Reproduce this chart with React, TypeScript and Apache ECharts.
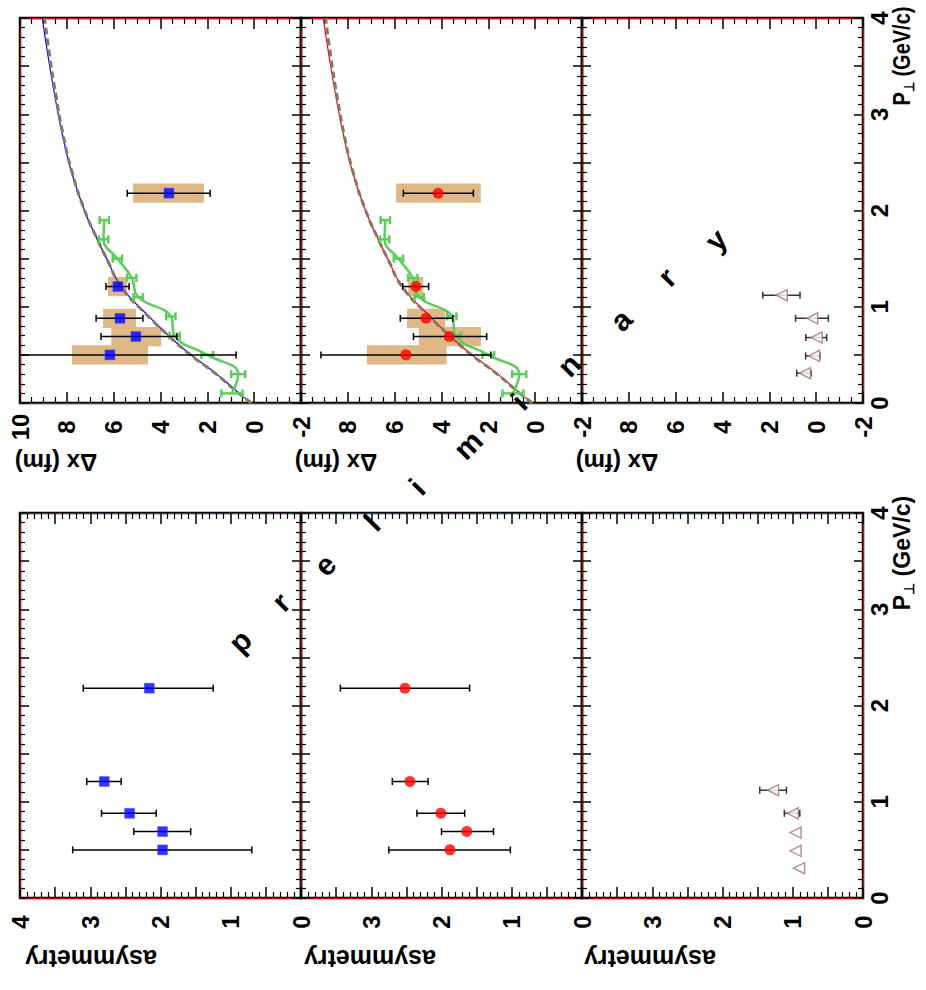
import React, { useEffect, useRef } from 'react';
import * as echarts from 'echarts';

const FONT = '"Liberation Sans", Arial, Helvetica, sans-serif';

// ---------- data ----------
// P_perp bins of the blue / red measurements (GeV/c)
const pBins = [0.5, 0.69, 0.88, 1.21, 2.18];
const sysHalfP = 0.1;

// Delta x (fm), blue squares
const blueDx = [6.16, 5.05, 5.73, 5.82, 3.64];
const blueDxLo = [0.77, 3.3, 4.75, 5.34, 1.88];
const blueDxHi = [11.5, 6.54, 6.75, 6.33, 5.42];
const blueSysLo = [4.53, 3.97, 5.05, 5.43, 2.14];
const blueSysHi = [7.78, 6.1, 6.45, 6.24, 5.17];

// Delta x (fm), red circles
const redDx = [5.52, 3.67, 4.66, 5.09, 4.14];
const redDxLo = [1.89, 2.07, 3.52, 4.55, 2.64];
const redDxHi = [9.15, 5.2, 5.76, 5.66, 5.63];
const redSysLo = [3.78, 2.31, 3.84, 4.78, 2.32];
const redSysHi = [7.19, 4.97, 5.47, 5.42, 5.94];

// asymmetry, blue squares
const blueAsym = [1.97, 1.97, 2.44, 2.8, 2.16];
const blueAsymLo = [0.7, 1.57, 2.06, 2.56, 1.25];
const blueAsymHi = [3.25, 2.38, 2.84, 3.05, 3.1];

// asymmetry, red circles
const redAsym = [1.88, 1.64, 2.01, 2.45, 2.52];
const redAsymLo = [1.02, 1.26, 1.67, 2.19, 1.6];
const redAsymHi = [2.75, 2.0, 2.35, 2.7, 3.44];

// triangles
const triP = [0.31, 0.49, 0.68, 0.88, 1.12];
const triDx = [0.48, 0.09, -0.02, 0.17, 1.47];
const triDxLo = [0.22, -0.16, -0.45, -0.52, 0.69];
const triDxHi = [0.83, 0.45, 0.44, 0.88, 2.28];
const triAsym = [0.91, 0.96, 0.96, 1.0, 1.28];
const triAsymLo = [0.91, 0.96, 0.96, 0.9, 1.09];
const triAsymHi = [0.91, 0.96, 0.96, 1.12, 1.47];

// green model points
const greenP = [0.1, 0.3, 0.5, 0.7, 0.9, 1.1, 1.3, 1.5, 1.7, 1.9];
const greenDx = [0.95, 0.68, 2.0, 3.4, 3.56, 4.95, 5.23, 5.84, 6.43, 6.4];
const greenErr = [0.45, 0.3, 0.25, 0.22, 0.2, 0.2, 0.2, 0.2, 0.2, 0.2];

// fit curves
const fitP = [0, 0.1, 0.3, 0.5, 0.7, 0.9, 1.2, 1.5, 1.7, 2.0, 2.4, 2.8, 3.2, 3.6, 4.0];
const fitDx = [0.12, 0.64, 1.6, 2.7, 3.65, 4.5, 5.65, 6.3, 6.7, 7.25, 7.8, 8.2, 8.52, 8.8, 9.05];
const dashDx = [0.12, 0.66, 1.62, 2.72, 3.66, 4.52, 5.66, 6.3, 6.7, 7.24, 7.78, 8.17, 8.47, 8.73, 8.95];

// axes
const dxMin = -2, dxMax = 10, dxStep = 2;
const asymMin = 0, asymMax = 4, asymStep = 0.5;
const pMin = 0, pMax = 4, pStep = 0.5;

const prelimLetters = ['p', 'r', 'e', 'l', 'i', 'm', 'i', 'n', 'a', 'r', 'y'];

// ---------- layout ----------
const GRID_LEFTS = [20, 301, 582];
const GRID_TOPS = [18, 513];
const GRID_W = 281;
const GRID_H = 385;
const PRELIM_POS = [
  [240, 641], [281, 602], [325, 565], [372, 523], [417, 487], [468, 445],
  [519, 402], [569, 365], [621, 320], [667, 277], [716, 240],
];

const RED_AXIS = { color: '#e00000', width: 1 };

function hAxis(gi: number, kind: 'dx' | 'asym', position: 'bottom' | 'top') {
  const isDx = kind === 'dx';
  const col = gi % 3;
  return {
    type: 'value',
    gridIndex: gi,
    position,
    inverse: true,
    min: isDx ? dxMin : asymMin,
    max: isDx ? dxMax : asymMax,
    interval: isDx ? dxStep : asymStep,
    axisLine: { show: true, onZero: false, lineStyle: RED_AXIS },
    axisTick: { show: true, inside: true, length: 11, lineStyle: { color: '#000', width: 1.5 } },
    minorTick: { show: true, splitNumber: isDx ? 4 : 5, length: 6, lineStyle: { color: '#000', width: 1.2 } },
    splitLine: { show: false },
    minorSplitLine: { show: false },
    axisLabel: {
      show: position === 'bottom',
      rotate: 90,
      align: 'center',
      verticalAlign: 'middle',
      margin: 24,
      fontSize: 24,
      fontWeight: 'bold',
      fontFamily: FONT,
      color: '#000',
      showMaxLabel: col === 0,
      showMinLabel: true,
      hideOverlap: false,
      formatter: (v: number) => (isDx ? String(v) : Number.isInteger(v) ? String(v) : ''),
    },
  };
}

function pAxis(gi: number, position: 'left' | 'right') {
  const col = gi % 3;
  return {
    type: 'value',
    gridIndex: gi,
    position,
    min: pMin,
    max: pMax,
    interval: pStep,
    axisLine: { show: true, onZero: false, lineStyle: RED_AXIS },
    axisTick: { show: true, inside: true, length: 9, lineStyle: { color: '#000', width: 1.5 } },
    minorTick: { show: true, splitNumber: 5, length: 5, lineStyle: { color: '#000', width: 1.2 } },
    splitLine: { show: false },
    minorSplitLine: { show: false },
    axisLabel: {
      show: position === 'right' && col === 2,
      rotate: 90,
      align: 'center',
      verticalAlign: 'middle',
      margin: 16,
      fontSize: 24,
      fontWeight: 'bold',
      fontFamily: FONT,
      color: '#000',
      hideOverlap: false,
      formatter: (v: number) => (Number.isInteger(v) ? String(v) : ''),
    },
  };
}

function hErrRender(color: string, width: number, cap: number) {
  return (params: any, api: any) => {
    const p = api.value(0);
    const lo = api.value(1);
    const hi = api.value(2);
    if (lo === hi) return { type: 'group', children: [] };
    const a = api.coord([lo, p]);
    const b = api.coord([hi, p]);
    const cs = params.coordSys;
    const xmin = cs.x;
    const xmax = cs.x + cs.width;
    const cl = (v: number) => Math.max(xmin, Math.min(xmax, v));
    const st = { stroke: color, lineWidth: width };
    const children: any[] = [
      { type: 'line', shape: { x1: cl(a[0]), y1: a[1], x2: cl(b[0]), y2: b[1] }, style: st },
    ];
    [a, b].forEach((pt) => {
      if (pt[0] >= xmin - 0.5 && pt[0] <= xmax + 0.5) {
        children.push({ type: 'line', shape: { x1: pt[0], y1: pt[1] - cap, x2: pt[0], y2: pt[1] + cap }, style: st });
      }
    });
    return { type: 'group', children };
  };
}

function boxRender(color: string) {
  return (params: any, api: any) => {
    const p = api.value(0);
    const lo = api.value(1);
    const hi = api.value(2);
    const a = api.coord([lo, p + sysHalfP]);
    const b = api.coord([hi, p - sysHalfP]);
    return {
      type: 'rect',
      shape: { x: Math.min(a[0], b[0]), y: Math.min(a[1], b[1]), width: Math.abs(a[0] - b[0]), height: Math.abs(a[1] - b[1]) },
      style: { fill: color },
    };
  };
}

function axisIdx(gi: number) {
  return { xAxisIndex: 2 * gi, yAxisIndex: 2 * gi };
}

function errSeries(gi: number, ps: number[], lo: number[], hi: number[], color: string, width: number, cap: number, z: number) {
  return {
    type: 'custom',
    ...axisIdx(gi),
    silent: true,
    z,
    encode: { x: [1, 2], y: 0 },
    data: ps.map((p, i) => [p, lo[i], hi[i]]),
    renderItem: hErrRender(color, width, cap),
  };
}

function boxSeries(gi: number, lo: number[], hi: number[]) {
  return {
    type: 'custom',
    ...axisIdx(gi),
    silent: true,
    z: 1,
    encode: { x: [1, 2], y: 0 },
    data: pBins.map((p, i) => [p, lo[i], hi[i]]),
    renderItem: boxRender('#deb887'),
  };
}

function lineSeries(gi: number, xs: number[], ps: number[], color: string, width: number, dashed: boolean, z: number, smooth: any) {
  return {
    type: 'line',
    ...axisIdx(gi),
    silent: true,
    z,
    smooth,
    symbol: 'none',
    lineStyle: { color, width, type: dashed ? [7, 4] : 'solid' },
    data: ps.map((p, i) => [xs[i], p]),
  };
}

function markerSeries(gi: number, xs: number[], ps: number[], kind: 'blue' | 'red' | 'tri') {
  const base: any = {
    type: 'scatter',
    ...axisIdx(gi),
    silent: true,
    z: 10,
    data: ps.map((p, i) => [xs[i], p]),
  };
  if (kind === 'blue') {
    base.symbol = 'rect';
    base.symbolSize = 10;
    base.itemStyle = { color: '#0000ff', borderColor: '#4a4aff', borderWidth: 0.5 };
  } else if (kind === 'red') {
    base.symbol = 'circle';
    base.symbolSize = 11;
    base.itemStyle = { color: '#ff0000' };
  } else {
    base.symbol = 'triangle';
    base.symbolSize = [11, 11];
    base.symbolRotate = 90;
    base.itemStyle = { color: '#ffffff', borderColor: '#a87676', borderWidth: 1.5 };
  }
  return base;
}

function greenSeries(gi: number) {
  return [
    lineSeries(gi, greenDx, greenP, '#5ccd5c', 2.5, false, 4, 0.45),
    errSeries(
      gi,
      greenP,
      greenDx.map((v, i) => v - greenErr[i]),
      greenDx.map((v, i) => v + greenErr[i]),
      '#5ccd5c',
      2.5,
      4,
      5
    ),
  ];
}

function buildOption() {
  const grid: any[] = [];
  const xAxis: any[] = [];
  const yAxis: any[] = [];
  for (let r = 0; r < 2; r++) {
    for (let c = 0; c < 3; c++) {
      const gi = r * 3 + c;
      grid.push({
        left: GRID_LEFTS[c],
        top: GRID_TOPS[r],
        width: GRID_W,
        height: GRID_H,
        show: true,
        borderColor: '#000',
        borderWidth: 2.5,
        backgroundColor: 'transparent',
        containLabel: false,
        outerBoundsMode: 'none',
      });
      const kind = r === 0 ? 'dx' : 'asym';
      xAxis.push(hAxis(gi, kind, 'bottom'));
      xAxis.push(hAxis(gi, kind, 'top'));
      yAxis.push(pAxis(gi, 'left'));
      yAxis.push(pAxis(gi, 'right'));
    }
  }

  const series: any[] = [
    // panel 0 : Delta x, blue
    boxSeries(0, blueSysLo, blueSysHi),
    lineSeries(0, fitDx, fitP, '#0000ff', 1.2, false, 2, true),
    lineSeries(0, dashDx, fitP, '#8c7463', 3, true, 3, true),
    ...greenSeries(0),
    errSeries(0, pBins, blueDxLo, blueDxHi, '#000', 1.5, 3.5, 8),
    markerSeries(0, blueDx, pBins, 'blue'),
    // panel 1 : Delta x, red
    boxSeries(1, redSysLo, redSysHi),
    lineSeries(1, fitDx, fitP, '#ff0000', 1.2, false, 2, true),
    lineSeries(1, dashDx, fitP, '#8c7463', 3, true, 3, true),
    ...greenSeries(1),
    errSeries(1, pBins, redDxLo, redDxHi, '#000', 1.5, 3.5, 8),
    markerSeries(1, redDx, pBins, 'red'),
    // panel 2 : Delta x, triangles
    errSeries(2, triP, triDxLo, triDxHi, '#333', 1.5, 3.5, 8),
    markerSeries(2, triDx, triP, 'tri'),
    // panel 3 : asymmetry, blue
    errSeries(3, pBins, blueAsymLo, blueAsymHi, '#000', 1.5, 3.5, 8),
    markerSeries(3, blueAsym, pBins, 'blue'),
    // panel 4 : asymmetry, red
    errSeries(4, pBins, redAsymLo, redAsymHi, '#000', 1.5, 3.5, 8),
    markerSeries(4, redAsym, pBins, 'red'),
    // panel 5 : asymmetry, triangles
    errSeries(5, triP, triAsymLo, triAsymHi, '#333', 1.5, 3.5, 8),
    markerSeries(5, triAsym, triP, 'tri'),
  ];

  const txt = (text: string, x: number, y: number, rotation: number, fontSize: number, extra: any = {}) => ({
    type: 'text',
    x,
    y,
    rotation,
    silent: true,
    z: 100,
    ...extra,
    style: {
      text,
      fontSize,
      fontWeight: 'bold',
      fontFamily: FONT,
      fill: '#000',
      align: 'center',
      verticalAlign: 'middle',
    },
  });

  const pName = (x: number, y: number, size: number, scaleY: number) => ({
    type: 'text',
    x,
    y,
    rotation: Math.PI / 2,
    scaleY,
    silent: true,
    z: 100,
    style: {
      text: '{p|P}{s|⊥}{t| (GeV/c)}',
      align: 'center',
      verticalAlign: 'middle',
      fill: '#000',
      rich: {
        p: { fontSize: size, fontWeight: 'bold', fontFamily: FONT, fill: '#000', lineHeight: size * 1.1, verticalAlign: 'top' },
        s: { fontSize: Math.round(size * 0.62), fontWeight: 'bold', fontFamily: FONT, fill: '#000', lineHeight: size * 0.7, verticalAlign: 'bottom' },
        t: { fontSize: size, fontWeight: 'bold', fontFamily: FONT, fill: '#000', lineHeight: size * 1.1, verticalAlign: 'top' },
      },
    },
  });

  const graphic: any[] = [
    txt('Δx (fm)', 56, 462, Math.PI, 24),
    txt('Δx (fm)', 336, 462, Math.PI, 24),
    txt('Δx (fm)', 617, 462, Math.PI, 24),
    txt('asymmetry', 91, 959, Math.PI, 25),
    txt('asymmetry', 370, 959, Math.PI, 25),
    txt('asymmetry', 650, 959, Math.PI, 25),
    pName(903, 56, 20, 1.2),
    pName(903, 553, 23, 1.0),
    ...prelimLetters.map((ch, i) => txt(ch, PRELIM_POS[i][0], PRELIM_POS[i][1], Math.PI / 4, 30)),
  ];

  return {
    animation: false,
    backgroundColor: '#ffffff',
    grid,
    xAxis,
    yAxis,
    series,
    graphic,
  };
}

export default function App() {
  const ref = useRef<HTMLDivElement>(null);
  useEffect(() => {
    document.body.style.margin = '0';
    const chart = echarts.init(ref.current as HTMLDivElement, null, { renderer: 'svg' });
    chart.setOption(buildOption() as any);
    return () => {
      chart.dispose();
    };
  }, []);
  return (
    <div
      ref={ref}
      style={{ position: 'absolute', left: 0, top: 0, width: 926, height: 990, background: '#fff' }}
    />
  );
}
